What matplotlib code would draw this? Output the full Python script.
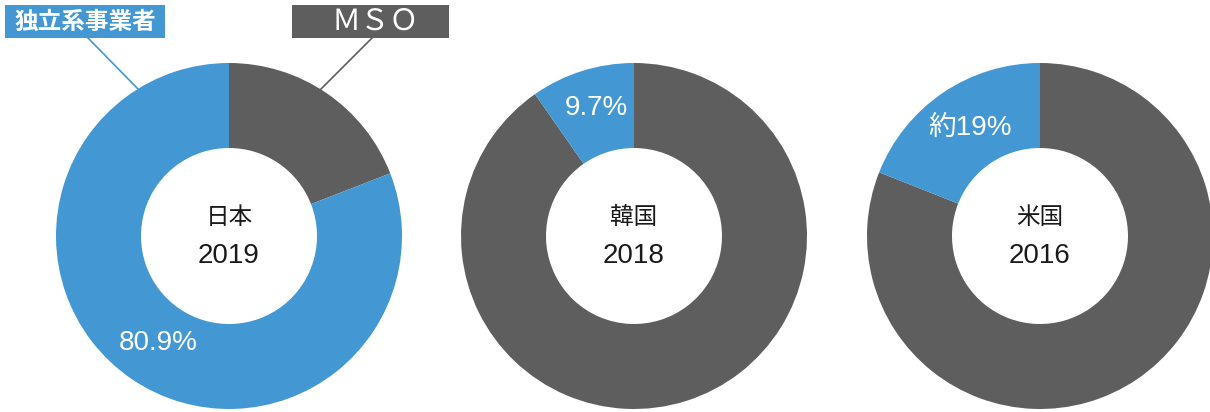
import matplotlib.pyplot as plt

plt.rcParams['font.family'] = ['Liberation Sans', 'Noto Sans CJK JP', 'DejaVu Sans']

# シェア（MSO, 独立系事業者）
countries = ['日本', '韓国', '米国']
years = ['2019', '2018', '2016']
mso_share = [19.1, 90.3, 81.0]
indep_share = [80.9, 9.7, 19.0]
indep_labels = ['80.9%', '9.7%', '約19%']

BLUE = '#4398d3'
GRAY = '#5e5e5e'

W, H = 1210, 412
fig = plt.figure(figsize=(W / 100, H / 100), dpi=100)
ax = fig.add_axes([0, 0, 1, 1])

centers_x = [229, 634, 1040]
cy = 236
r_out = 173
r_in = 88
# 割合ラベルの位置
label_pos = [(158, 343), (596, 108), (970, 128)]


def py(y):
    # 上からのピクセル位置 -> データ座標
    return H - y


for i in range(3):
    ax.pie([mso_share[i], indep_share[i]], colors=[GRAY, BLUE],
           startangle=90, counterclock=False, radius=r_out,
           center=(centers_x[i], py(cy)),
           wedgeprops=dict(width=r_out - r_in, linewidth=0))
    ax.text(centers_x[i], py(218), countries[i], ha='center', va='center',
            fontsize=17, color='#1a1a1a')
    ax.text(centers_x[i], py(256), years[i], ha='center', va='center',
            fontsize=20, color='#1a1a1a')
    lx, ly = label_pos[i]
    ax.text(lx, py(ly), indep_labels[i], ha='center', va='center',
            fontsize=20, color='white')

# 凡例ラベルと引き出し線
ax.plot([88, 138], [py(38), py(89)], color=BLUE, lw=1.2)
ax.plot([372, 320], [py(38), py(90)], color=GRAY, lw=1.2)
ax.add_patch(plt.Rectangle((5, py(38)), 160, 33, color=BLUE, lw=0))
ax.add_patch(plt.Rectangle((292, py(38)), 157, 33, color=GRAY, lw=0))
ax.text(85, py(21.5), '独立系事業者', ha='center', va='center',
        fontsize=17, color='white', fontweight='bold',
        family=['Noto Sans CJK JP'])
ax.text(375, py(21.5), 'ＭＳＯ', ha='center', va='center',
        fontsize=21, color='white', family=['Noto Sans CJK JP'])

ax.set_xlim(0, W)
ax.set_ylim(0, H)
ax.set_aspect('auto')
ax.axis('off')

fig.savefig('out.png', dpi=100)
